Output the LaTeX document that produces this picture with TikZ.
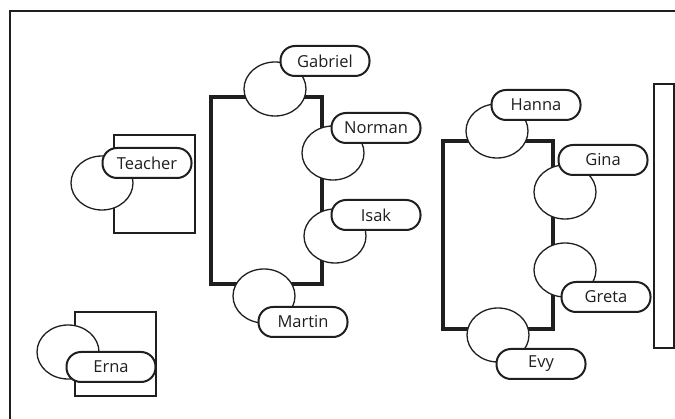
\documentclass[tikz,border=0pt]{standalone}
\usepackage{fontspec}
\setmainfont{Open Sans}
\definecolor{inkc}{gray}{0.12}
\tikzset{
  frame/.style={draw=inkc, line width=1.2pt},
  desk/.style={draw=inkc, line width=2pt},
  bigtable/.style={draw=inkc, line width=3.5pt},
  board/.style={draw=inkc, line width=2pt},
  seat/.style={draw=inkc, fill=white, line width=1.3pt},
  nametag/.style={draw=inkc, fill=white, line width=2pt, rounded corners=14.5pt,
    minimum width=89pt, minimum height=30pt, inner sep=0pt,
    font=\fontsize{16.5}{18}\selectfont, text=inkc}
}
\begin{document}
\begin{tikzpicture}[x=1pt,y=-1pt]
\useasboundingbox (0,0) rectangle (675,419);
\clip (0,0) rectangle (675,419);
% room outline
\draw[frame] (10,11) rectangle (700,440);
% furniture
\draw[desk] (114,135) rectangle (195,233);
\draw[desk] (75,312) rectangle (156,396);
\draw[bigtable] (211,97) rectangle (322,284);
\draw[bigtable] (443,141) rectangle (553,329);
\draw[board] (654,84) rectangle (674,348);
% seats
\foreach \x/\y in {102/183, 68/352, 275/89, 333/153,
    335/236, 264/296, 497/131, 565/192, 565/270, 498/335}
  \draw[seat] (\x,\y) ellipse (31 and 27);
% names
\node[nametag] (teacher) at (147,163) {Teacher};
\node[nametag] (erna) at (111,367) {Erna};
\node[nametag] (gabriel) at (325,61) {Gabriel};
\node[nametag] (norman) at (376,128) {Norman};
\node[nametag] (isak) at (376,215) {Isak};
\node[nametag] (martin) at (303,322) {Martin};
\node[nametag] (hanna) at (536,105) {Hanna};
\node[nametag] (gina) at (603,160) {Gina};
\node[nametag] (greta) at (606,297) {Greta};
\node[nametag] (evy) at (541,364) {Evy};
\end{tikzpicture}
\end{document}
